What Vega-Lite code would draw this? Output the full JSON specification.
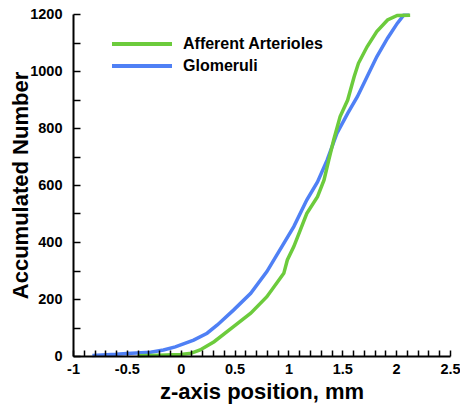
{
  "$schema": "https://vega.github.io/schema/vega-lite/v6.json",
  "autosize": {"type": "none"},
  "padding": {"left": 73, "top": 14, "right": 10, "bottom": 49},
  "width": 377,
  "height": 342,
  "background": "white",
  "config": {
    "view": {"stroke": null},
    "font": "Liberation Sans",
    "axis": {"grid": false, "domainColor": "black", "domainWidth": 2, "labelColor": "black", "titleColor": "black", "labelFont": "Liberation Sans", "labelFontWeight": "bold", "labelFontSize": 14.5, "titleFont": "Liberation Sans", "titleFontWeight": "bold", "titleFontSize": 22, "labelFlush": false, "labelOverlap": false}
  },
  "data": {"values": [
    {"series": "Glomeruli", "x": -0.82, "y": 2},
    {"series": "Glomeruli", "x": -0.6, "y": 6},
    {"series": "Glomeruli", "x": -0.5, "y": 9},
    {"series": "Glomeruli", "x": -0.28, "y": 13},
    {"series": "Glomeruli", "x": -0.16, "y": 21},
    {"series": "Glomeruli", "x": -0.05, "y": 32},
    {"series": "Glomeruli", "x": 0.0, "y": 39},
    {"series": "Glomeruli", "x": 0.12, "y": 56},
    {"series": "Glomeruli", "x": 0.245, "y": 80},
    {"series": "Glomeruli", "x": 0.34, "y": 109},
    {"series": "Glomeruli", "x": 0.49, "y": 161},
    {"series": "Glomeruli", "x": 0.65, "y": 220},
    {"series": "Glomeruli", "x": 0.8, "y": 296},
    {"series": "Glomeruli", "x": 0.957, "y": 395},
    {"series": "Glomeruli", "x": 1.05, "y": 454},
    {"series": "Glomeruli", "x": 1.17, "y": 547},
    {"series": "Glomeruli", "x": 1.27, "y": 611},
    {"series": "Glomeruli", "x": 1.36, "y": 688},
    {"series": "Glomeruli", "x": 1.45, "y": 781},
    {"series": "Glomeruli", "x": 1.55, "y": 851},
    {"series": "Glomeruli", "x": 1.64, "y": 910},
    {"series": "Glomeruli", "x": 1.73, "y": 980},
    {"series": "Glomeruli", "x": 1.82, "y": 1050},
    {"series": "Glomeruli", "x": 1.92, "y": 1115},
    {"series": "Glomeruli", "x": 2.01, "y": 1167},
    {"series": "Glomeruli", "x": 2.07, "y": 1196},
    {"series": "Glomeruli", "x": 2.12, "y": 1196},
    {"series": "Afferent Arterioles", "x": -0.4, "y": 1},
    {"series": "Afferent Arterioles", "x": -0.2, "y": 3},
    {"series": "Afferent Arterioles", "x": 0.0, "y": 5},
    {"series": "Afferent Arterioles", "x": 0.1, "y": 10},
    {"series": "Afferent Arterioles", "x": 0.18, "y": 21},
    {"series": "Afferent Arterioles", "x": 0.31, "y": 50},
    {"series": "Afferent Arterioles", "x": 0.49, "y": 103},
    {"series": "Afferent Arterioles", "x": 0.65, "y": 150},
    {"series": "Afferent Arterioles", "x": 0.8, "y": 208},
    {"series": "Afferent Arterioles", "x": 0.957, "y": 290},
    {"series": "Afferent Arterioles", "x": 0.99, "y": 337},
    {"series": "Afferent Arterioles", "x": 1.05, "y": 384},
    {"series": "Afferent Arterioles", "x": 1.11, "y": 442},
    {"series": "Afferent Arterioles", "x": 1.17, "y": 500},
    {"series": "Afferent Arterioles", "x": 1.27, "y": 559},
    {"series": "Afferent Arterioles", "x": 1.33, "y": 617},
    {"series": "Afferent Arterioles", "x": 1.375, "y": 688},
    {"series": "Afferent Arterioles", "x": 1.42, "y": 758},
    {"series": "Afferent Arterioles", "x": 1.48, "y": 840},
    {"series": "Afferent Arterioles", "x": 1.55, "y": 898},
    {"series": "Afferent Arterioles", "x": 1.61, "y": 980},
    {"series": "Afferent Arterioles", "x": 1.65, "y": 1027},
    {"series": "Afferent Arterioles", "x": 1.73, "y": 1085},
    {"series": "Afferent Arterioles", "x": 1.82, "y": 1138},
    {"series": "Afferent Arterioles", "x": 1.92, "y": 1179},
    {"series": "Afferent Arterioles", "x": 2.01, "y": 1195},
    {"series": "Afferent Arterioles", "x": 2.13, "y": 1196}
  ]},
  "mark": {"type": "line", "strokeWidth": 3.5},
  "encoding": {
    "x": {"field": "x", "type": "quantitative",
      "scale": {"domain": [-1, 2.5], "nice": false, "zero": false},
      "axis": {"title": "z-axis position, mm", "zindex": 1,
        "values": [-1,-0.9,-0.8,-0.7,-0.6,-0.5,-0.4,-0.3,-0.2,-0.1,0,0.1,0.2,0.3,0.4,0.5,0.6,0.7,0.8,0.9,1,1.1,1.2,1.3,1.4,1.5,1.6,1.7,1.8,1.9,2,2.1,2.2,2.3,2.4,2.5],
        "labelExpr": "abs(datum.value*2 - round(datum.value*2)) < 0.001 ? '' + datum.value : ''",
        "ticks": true, "tickSize": -6, "tickColor": "black", "tickWidth": 1.5,
        "labelPadding": 12,
        "titlePadding": 6}},
    "y": {"field": "y", "type": "quantitative",
      "scale": {"domain": [0, 1200], "nice": false},
      "axis": {"title": "Accumulated Number", "zindex": 1,
        "values": [0,100,200,300,400,500,600,700,800,900,1000,1100,1200],
        "labelExpr": "datum.value % 200 === 0 ? '' + datum.value : ''",
        "ticks": true, "tickSize": -7, "tickColor": "black", "tickWidth": 1.5,
        "labelPadding": 18,
        "titlePadding": -3}},
    "color": {"field": "series", "type": "nominal",
      "scale": {"domain": ["Afferent Arterioles", "Glomeruli"], "range": ["#6ccb3c", "#4f80f5"]},
      "legend": {"title": null, "orient": "none", "legendX": 57, "legendY": 18,
        "symbolType": "M-3,0H3", "symbolSize": 400, "symbolStrokeWidth": 4,
        "labelOffset": 29,
        "labelFont": "Liberation Sans", "labelFontWeight": "bold", "labelFontSize": 16, "labelColor": "black"}}
  }
}
